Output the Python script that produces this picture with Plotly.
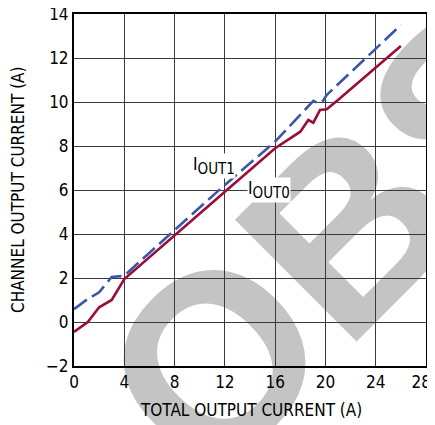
import plotly.graph_objects as go

# Data
total_current = [0, 1.1, 2.0, 3.0, 4.0, 8.0, 12.0, 16.0, 18.0, 18.64, 19.04, 19.57, 20.1, 21.0, 26.0]
iout0 = [-0.45, 0.0, 0.67, 1.0, 1.95, 3.95, 5.92, 7.9, 8.65, 9.18, 9.06, 9.64, 9.67, 10.09, 12.55]

total_current_1 = [0, 1.1, 2.0, 3.0, 3.92, 4.19, 8.0, 12.0, 16.0, 17.98, 19.04, 19.44, 19.8, 20.1, 24.0, 26.0]
iout1 = [0.58, 1.05, 1.35, 2.05, 2.09, 2.21, 4.18, 6.23, 8.2, 9.41, 10.05, 9.94, 10.05, 10.32, 12.4, 13.5]

x_ticks = [0, 4, 8, 12, 16, 20, 24, 28]
x_tick_labels = ["0", "4", "8", "12", "16", "20", "24", "28\u2007"]
y_ticks = [-2, 0, 2, 4, 6, 8, 10, 12, 14]

FONT = "DejaVu Sans Condensed, Liberation Sans Narrow, Arial Narrow, sans-serif"
RED = "#9b0d3a"
BLUE = "#3b58a8"
GRID = "#3a3a3a"

fig = go.Figure()
fig.add_trace(go.Scatter(x=total_current, y=iout0, mode="lines",
                         line=dict(color=RED, width=2.6), showlegend=False))
fig.add_trace(go.Scatter(x=total_current_1, y=iout1, mode="lines",
                         line=dict(color=BLUE, width=2.6, dash="16px,6px"), showlegend=False))

# watermark below the grid
cx, cy = 0.701, 0.412
fig.add_shape(type="rect", xref="paper", yref="paper", x0=cx - 0.1, x1=cx + 0.1, y0=cy - 0.1, y1=cy + 0.1,
              line=dict(width=0), fillcolor="rgba(0,0,0,0)", layer="below",
              label=dict(text="<b>OBS</b>", textangle=-45, textposition="middle center",
                         font=dict(family="Liberation Sans, Arial, sans-serif", size=250, color="#c4c4c4")))

fig.add_annotation(x=11.14, y=7.09, text="I<sub><span style='font-size:15px'>OUT1</span></sub>", showarrow=False,
                   font=dict(family=FONT, size=17, color="black"), bgcolor="white", borderpad=0)
fig.add_annotation(x=15.5, y=6.0, text="I<sub><span style='font-size:15px'>OUT0</span></sub>", showarrow=False,
                   font=dict(family=FONT, size=17, color="black"), bgcolor="white", borderpad=0)

fig.add_annotation(xref="paper", yref="paper", x=0.503, y=-0.125, yanchor="middle", xanchor="center",
                   text="TOTAL OUTPUT CURRENT (A)",
                   showarrow=False, font=dict(family=FONT, size=17, color="black"))
fig.add_annotation(xref="paper", yref="paper", x=-0.159, y=0.5, xanchor="center", yanchor="middle",
                   text="CHANNEL OUTPUT CURRENT (A)",
                   textangle=-90, showarrow=False, font=dict(family=FONT, size=17, color="black"))

axis_common = dict(showgrid=True, gridcolor=GRID, gridwidth=1.4, showline=True, linecolor="black",
                   linewidth=2, mirror=True, ticks="", zeroline=False, automargin=False,
                   ticklabeloverflow="allow",
                   tickfont=dict(family=FONT, size=17, color="black"))
fig.update_xaxes(range=[0, 28], tickvals=x_ticks, ticktext=x_tick_labels, **axis_common)
fig.update_yaxes(range=[-2, 14], tickvals=y_ticks, **axis_common)

# page body has an 8px margin, so the figure is sized/offset to compensate
fig.update_layout(width=427, height=417, margin=dict(l=66, r=9, t=6, b=59, autoexpand=False),
                  plot_bgcolor="rgba(0,0,0,0)", paper_bgcolor="white")

fig.write_html("out.html")
